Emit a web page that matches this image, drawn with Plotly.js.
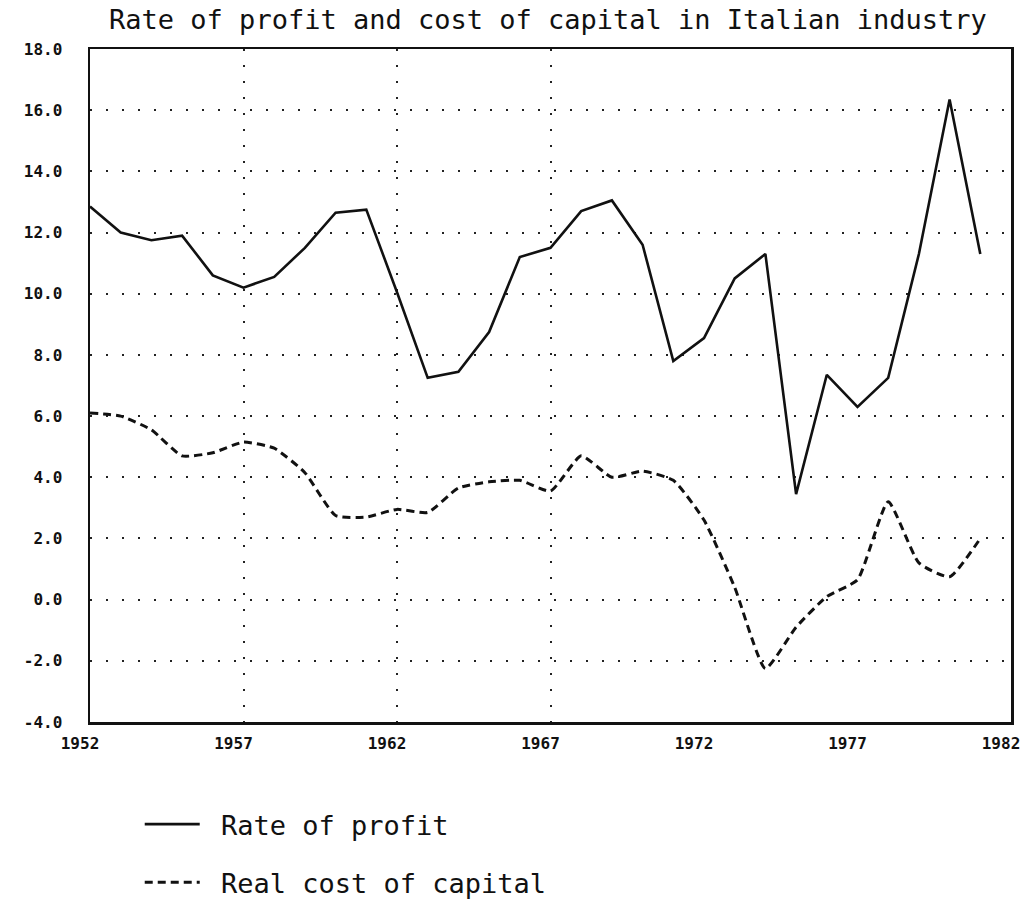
<!DOCTYPE html>
<html>
<head>
<meta charset="utf-8">
<script src="https://cdn.plot.ly/plotly-3.0.1.min.js"></script>
<style>html,body{margin:0;padding:0;background:#fff;}#chart{width:1032px;height:910px;}</style>
</head>
<body>
<div id="chart"></div>
<script>
var years = [1952,1953,1954,1955,1956,1957,1958,1959,1960,1961,1962,1963,1964,1965,1966,
             1967,1968,1969,1970,1971,1972,1973,1974,1975,1976,1977,1978,1979,1980,1981];
var rateOfProfit = [12.85,12.0,11.75,11.9,10.6,10.2,10.55,11.5,12.65,12.75,10.05,7.25,7.45,8.75,11.2,
                    11.5,12.7,13.05,11.6,7.8,8.55,10.5,11.3,3.45,7.35,6.3,7.25,11.3,16.35,11.3];
var realCostOfCapital = [6.1,6.0,5.55,4.7,4.8,5.15,4.95,4.15,2.75,2.7,2.95,2.85,3.65,3.85,3.9,
                         3.55,4.7,4.0,4.2,3.9,2.6,0.4,-2.25,-0.9,0.1,0.65,3.2,1.2,0.75,2.0];
var yTicks = [-4,-2,0,2,4,6,8,10,12,14,16,18];
var yTickText = ['-4.0','-2.0','0.0','2.0','4.0','6.0','8.0','10.0','12.0','14.0','16.0','18.0'];
var xTicks = [1952,1957,1962,1967,1972,1977,1982];
var xGridYears = [1957,1962,1967];
var titleText = 'Rate of profit and cost of capital in Italian industry';
var seriesNames = ['Rate of profit','Real cost of capital'];

var mono = 'DejaVu Sans Mono, monospace';

var traces = [
  {x: years, y: rateOfProfit, name: '\u00a0' + seriesNames[0], type: 'scatter', mode: 'lines',
   line: {color: '#111', width: 2.6}, legendgroup: 'a'},
  {x: years, y: realCostOfCapital, name: '\u00a0' + seriesNames[1], type: 'scatter', mode: 'lines',
   line: {color: '#111', width: 3, dash: '8px,5px', shape: 'spline', smoothing: 0.5}, legendgroup: 'b'},
  {x: [xGridYears[0]], y: [yTicks[0]], xaxis: 'x2', type: 'scatter', mode: 'markers',
   marker: {opacity: 0}, showlegend: false, hoverinfo: 'skip'}
];

var layout = {
  width: 1032, height: 910,
  paper_bgcolor: '#fff', plot_bgcolor: '#fff',
  margin: {l: 90, r: 21, t: 49, b: 188, autoexpand: false},
  title: {text: titleText, font: {family: mono, size: 27, color: '#111'},
          xref: 'container', x: 0.531, xanchor: 'center',
          yref: 'container', y: 0.979, yanchor: 'middle'},
  xaxis: {range: [1952, 1982], tickvals: xTicks, ticktext: xTicks.map(String),
          showgrid: false, zeroline: false, showline: true, linecolor: '#111', linewidth: 2.5,
          mirror: true, ticks: '', ticklabelshift: -10, ticklabelstandoff: 5, automargin: false,
          tickfont: {family: mono, size: 16, color: '#111', weight: 'bold'}},
  xaxis2: {overlaying: 'x', range: [1952, 1982], tickvals: xGridYears, showticklabels: false,
           showgrid: true, gridcolor: '#222', gridwidth: 2, griddash: '2px,14px',
           zeroline: false, showline: false, ticks: ''},
  yaxis: {range: [-4, 18], tickvals: yTicks, ticktext: yTickText, automargin: false,
          showgrid: true, gridcolor: '#222', gridwidth: 2, griddash: '2px,14px',
          zeroline: false, showline: true, linecolor: '#111', linewidth: 2.5,
          mirror: true, ticks: '', ticklabelstandoff: 22,
          tickfont: {family: mono, size: 16, color: '#111', weight: 'bold'}},
  showlegend: true,
  legend: {x: 0.054, xanchor: 'left', y: -0.116, yanchor: 'top', orientation: 'v',
           traceorder: 'grouped', tracegroupgap: 20, itemwidth: 55,
           font: {family: mono, size: 27, color: '#111'}, bgcolor: 'rgba(0,0,0,0)'}
};

Plotly.newPlot('chart', traces, layout, {displayModeBar: false, staticPlot: true});
</script>
</body>
</html>
